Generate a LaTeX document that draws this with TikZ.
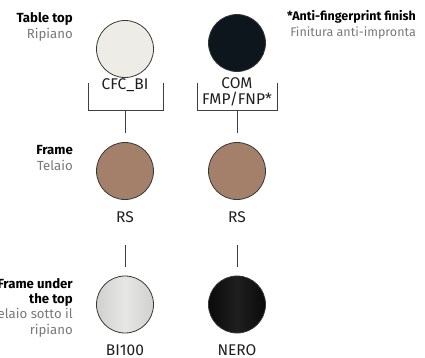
\documentclass[tikz,border=0pt]{standalone}
\usepackage{fontspec}
\setmainfont{Fira Sans}
\usepackage{tikz}

\definecolor{toplight}{RGB}{237,236,231}
\definecolor{topdark}{RGB}{13,22,28}
\definecolor{wood}{RGB}{164,128,106}
\definecolor{framelight}{RGB}{222,222,220}
\definecolor{framedark}{RGB}{10,10,10}
\definecolor{subgray}{RGB}{120,120,120}
\definecolor{rim}{RGB}{55,55,55}

\tikzset{
  swatch/.style={circle,draw=rim,line width=0.8pt,minimum size=57pt,inner sep=0pt},
  code/.style={font=\fontsize{15.5}{15.5}\selectfont,text=black!88,inner sep=0pt,align=center},
  rowlabel/.style={anchor=base east,align=right,inner sep=0pt,font=\fontsize{13.2}{15.3}\selectfont},
  link/.style={draw=black!75,line width=0.6pt}
}

\begin{document}
\begin{tikzpicture}[x=1pt,y=-1pt]
\useasboundingbox (0,0) rectangle (425,357);

% row labels (anchored on the last line)
\node[rowlabel] (lbltop) at (73,38) {\textbf{Table top}\\\textcolor{subgray}{Ripiano}};
\node[rowlabel] (lblframe) at (73,170) {\textbf{Frame}\\\textcolor{subgray}{Telaio}};
\node[rowlabel] (lblunder) at (73,334) {\textbf{Frame under}\\\textbf{the top}\\\textcolor{subgray}{Telaio sotto il}\\\textcolor{subgray}{ripiano}};
\node[rowlabel,font=\fontsize{12.5}{15.5}\selectfont] (note) at (416,36) {\textbf{*Anti-fingerprint finish}\\\textcolor{subgray}{Finitura anti-impronta}};

% table tops
\node[swatch,fill=toplight] (topa) at (125,49) {};
\node[swatch,fill=topdark] (topb) at (237,43) {};
\node[code] (cfc) at (125,85.5) {CFC\_BI};
\node[code] (com) at (237,92) {COM\\FMP/FNP*};

% frames
\node[swatch,fill=wood] (framea) at (125,171) {};
\node[swatch,fill=wood] (frameb) at (237,171) {};
\node[code] (rsa) at (125,217) {RS};
\node[code] (rsb) at (237,217) {RS};

% frames under the top
\node[swatch,left color=framelight!94!black,right color=framelight!94!black,middle color=framelight!75!white] (undera) at (125,304.5) {};
\node[swatch,left color=framedark,right color=framedark,middle color=black!88] (underb) at (237,304.5) {};
\node[code] (bi) at (125,350) {BI100};
\node[code] (nero) at (237,350) {NERO};

% brackets
\coordinate (ba1) at (88,83);
\coordinate (ba2) at (88,110);
\coordinate (ba3) at (163,110);
\coordinate (ba4) at (163,83);
\coordinate (bb1) at (197,83);
\coordinate (bb2) at (197,110);
\coordinate (bb3) at (277,110);
\coordinate (bb4) at (277,83);
\draw[link] (ba1) -- (ba2) -- (ba3) -- (ba4);
\draw[link] (bb1) -- (bb2) -- (bb3) -- (bb4);

% connectors
\coordinate (enda) at (125,133);
\coordinate (endb) at (237,133);
\draw[link] (ba2 -| framea) -- (enda);
\draw[link] (bb2 -| frameb) -- (endb);
\coordinate (starta) at (125,245);
\coordinate (startb) at (237,245);
\draw[link] (starta) -- ([yshift=9pt]undera.north);
\draw[link] (startb) -- ([yshift=9pt]underb.north);
\end{tikzpicture}
\end{document}
